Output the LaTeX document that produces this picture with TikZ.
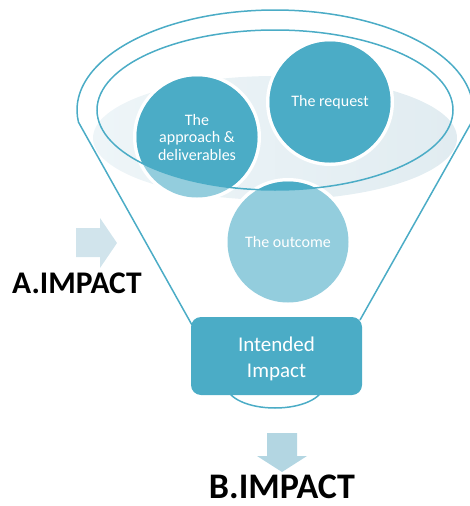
\documentclass[tikz,border=0pt]{standalone}
\usepackage{fontspec}
\setmainfont{Carlito}
\usetikzlibrary{shapes.geometric}
\definecolor{acc}{HTML}{4BACC6}
\definecolor{accl}{HTML}{93CDDD}
\definecolor{shl}{HTML}{EEF5F8}
\definecolor{shr}{HTML}{E1ECF1}
\definecolor{arra}{HTML}{D1E4EC}
\definecolor{arrb}{HTML}{B3D6E2}
\tikzset{
  funnel/.style={draw=acc, line width=1.5pt},
  ctext/.style={text=white, align=center, inner sep=0pt, font=\fontsize{16}{17.5}\selectfont},
  boxnode/.style={fill=acc, rounded corners=10pt, minimum width=171pt, minimum height=78pt, text=white, align=center, font=\fontsize{21}{26.5}\selectfont},
  lbl/.style={inner sep=0pt, text=black, font=\bfseries}
}
\begin{document}
\begin{tikzpicture}[x=1pt,y=-1pt]
\useasboundingbox (0,0) rectangle (469,506);
% shadow ellipse
\shade[left color=shl, right color=shr] (275,138) ellipse [x radius=182, y radius=62];
% funnel outline
\draw[funnel, line join=round] (192,325) -- (78.5,122.2) arc[start angle=173, end angle=367, x radius=198, y radius=100] -- (360,320);
% circles: white rings and light fill
\foreach \p in {(197,137),(330,102),(288,242)}{
  \fill[white] \p circle[radius=64];
  \fill[accl] \p circle[radius=60.5];
}
% dark part inside inner ellipse
\begin{scope}
  \clip (275,110) ellipse [x radius=178, y radius=80];
  \foreach \p in {(197,137),(330,102),(288,242)}{
    \fill[acc] \p circle[radius=60.5];
  }
\end{scope}
% inner ellipse
\draw[funnel] (275,110) ellipse [x radius=178, y radius=80];
% circle texts
\node[ctext] (appr) at (197,137.5) {The\\approach \&\\deliverables};
\node[ctext] (req) at (330,102) {The request};
\node[ctext] (out) at (288,242) {The outcome};
% small ellipse under box
\draw[funnel] (275,386) ellipse [x radius=48, y radius=22];
% box
\node[boxnode] (ii) at (276.5,356) {};
\node[text=white, align=center, inner sep=0pt, font=\fontsize{21}{26.5}\selectfont] (iit) at (276.5,359) {Intended\\Impact};
% arrows
\fill[arra] (76,228) -- (100,228) -- (100,218) -- (117,243) -- (100,268) -- (100,257) -- (76,257) -- cycle;
\fill[arrb] (267,433) -- (297,433) -- (297,456) -- (307,456) -- (282,472) -- (257,456) -- (267,456) -- cycle;
% labels
\node[lbl, anchor=base west, font=\bfseries\fontsize{31.5}{31.5}\selectfont] (a) at (12,293) {A.IMPACT};
\node[lbl, anchor=base, font=\bfseries\fontsize{36}{36}\selectfont] (b) at (282,498) {B.IMPACT};
\end{tikzpicture}
\end{document}
